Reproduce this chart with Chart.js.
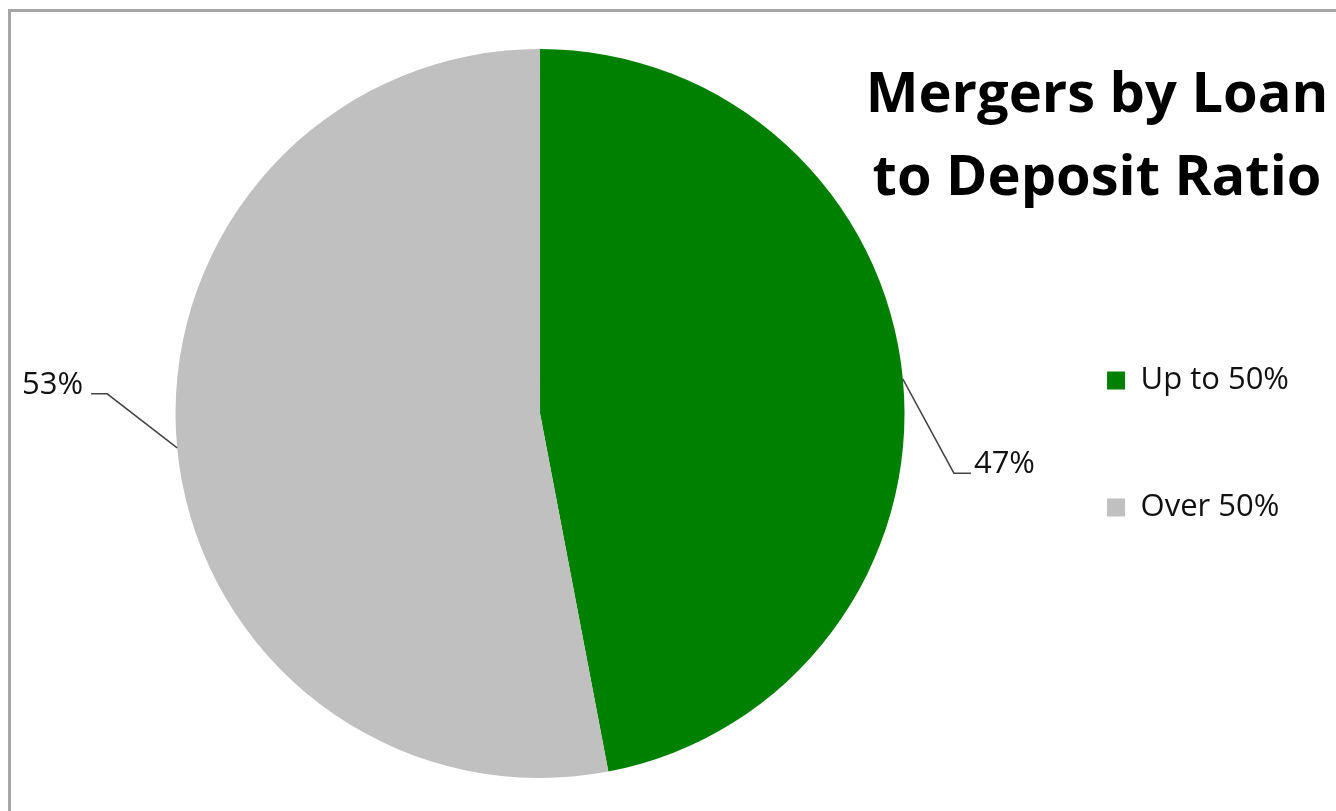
<!DOCTYPE html>
<html><head><meta charset="utf-8">
<script src="https://cdn.jsdelivr.net/npm/chart.js@4"></script>
<style>
html,body{margin:0;padding:0;background:#fff;overflow:hidden;}
#wrap{position:relative;width:1336px;height:811px;overflow:hidden;}
#frame{position:absolute;left:8px;top:9px;width:1400px;height:900px;border-left:3px solid #a6a6a6;border-top:3px solid #a6a6a6;}
canvas{position:absolute;left:0;top:0;}
</style></head><body>
<div id="wrap"><div id="frame"></div><canvas id="c" width="1336" height="811"></canvas></div>
<script>
// ---- data ----
const categories = ['Up to 50%', 'Over 50%'];
const shares = [47, 53];
const sliceColors = ['#008000', '#C0C0C0'];
const titleLines = ['Mergers by Loan', 'to Deposit Ratio'];

const FONT = '"Open Sans", "Noto Sans", sans-serif';

const cornerTitle = {
  id: 'cornerTitle',
  afterDraw(chart, args, opts) {
    const ctx = chart.ctx;
    ctx.save();
    ctx.font = 'bold ' + opts.size + 'px ' + FONT;
    ctx.fillStyle = '#000';
    ctx.textAlign = 'center';
    ctx.textBaseline = 'alphabetic';
    opts.lines.forEach((t, i) => ctx.fillText(t, opts.x, opts.y + i * opts.gap));
    ctx.restore();
  }
};

const leaderLabels = {
  id: 'leaderLabels',
  afterDatasetsDraw(chart, args, opts) {
    const meta = chart.getDatasetMeta(0);
    const data = chart.data.datasets[0].data;
    const total = data.reduce((a, b) => a + b, 0);
    const ctx = chart.ctx;
    ctx.save();
    meta.data.forEach((arc, i) => {
      const p = arc.getProps(['x', 'y', 'startAngle', 'endAngle', 'outerRadius'], true);
      const mid = (p.startAngle + p.endAngle) / 2;
      const ex = p.x + Math.cos(mid) * p.outerRadius;
      const ey = p.y + Math.sin(mid) * p.outerRadius;
      const o = opts.layout[i];
      const bx = ex + o.dx, by = ey + o.dy;
      const side = o.dx >= 0 ? 1 : -1;
      const tx = bx + side * o.tail;
      ctx.beginPath();
      ctx.moveTo(ex, ey);
      ctx.lineTo(bx, by);
      ctx.lineTo(tx, by);
      ctx.strokeStyle = '#444';
      ctx.lineWidth = 1.5;
      ctx.stroke();
      ctx.font = opts.size + 'px ' + FONT;
      ctx.fillStyle = '#111';
      ctx.textAlign = side > 0 ? 'left' : 'right';
      ctx.textBaseline = 'alphabetic';
      ctx.fillText(Math.round(data[i] / total * 100) + '%', tx + side * o.gap, by);
    });
    ctx.restore();
  }
};

new Chart(document.getElementById('c'), {
  type: 'pie',
  data: {
    labels: categories,
    datasets: [{
      data: shares,
      backgroundColor: sliceColors,
      borderWidth: 0,
      hoverOffset: 0
    }]
  },
  plugins: [cornerTitle, leaderLabels],
  options: {
    responsive: false,
    animation: false,
    devicePixelRatio: 1,
    layout: { padding: { left: 69, right: 37, top: 49, bottom: 33 } },
    plugins: {
      tooltip: { enabled: false },
      legend: {
        position: 'right',
        title: { display: true, text: '', font: { size: 12, lineHeight: 1 }, padding: { top: 49, bottom: 0 } },
        labels: {
          boxWidth: 18,
          boxHeight: 18,
          padding: 96,
          color: '#111',
          font: { family: FONT, size: 31 }
        }
      },
      cornerTitle: { lines: titleLines, x: 1097, y: 112, gap: 83, size: 56 },
      leaderLabels: {
        size: 31,
        layout: [
          { dx: 51, dy: 94, tail: 17, gap: 3 },
          { dx: -70, dy: -54, tail: 16, gap: 8 }
        ]
      }
    }
  }
});
</script>
</body></html>
